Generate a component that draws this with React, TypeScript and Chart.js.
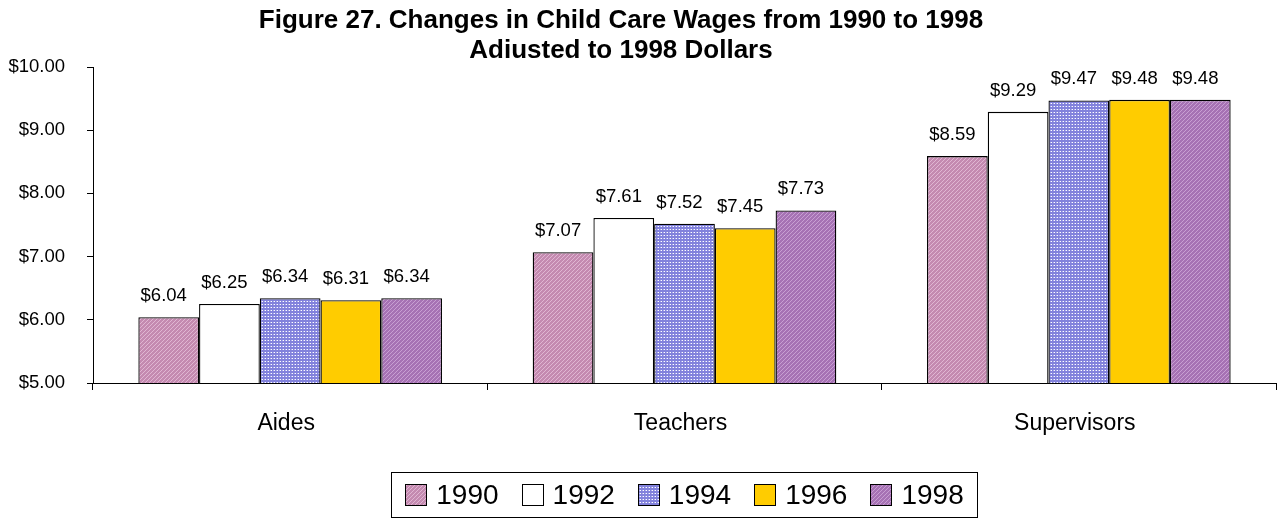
import React, { useEffect, useRef } from "react";
import { Chart, registerables } from "chart.js";

Chart.register(...registerables);

const categories = ["Aides", "Teachers", "Supervisors"];
const years = ["1990", "1992", "1994", "1996", "1998"];
const wages1990 = [6.04, 7.07, 8.59];
const wages1992 = [6.25, 7.61, 9.29];
const wages1994 = [6.34, 7.52, 9.47];
const wages1996 = [6.31, 7.45, 9.48];
const wages1998 = [6.34, 7.73, 9.48];
const titleLines = [
  "Figure 27. Changes in Child Care Wages from 1990 to 1998",
  "Adiusted to 1998 Dollars",
];
const yMin = 5;
const yMax = 10;
const yStep = 1;

const FONT = "'Liberation Sans', Arial, Helvetica, sans-serif";

function makeTile(kind: string): HTMLCanvasElement {
  const c = document.createElement("canvas");
  if (kind === "1994") {
    c.width = 3;
    c.height = 3;
    const g = c.getContext("2d")!;
    g.fillStyle = "#8282DC";
    g.fillRect(0, 0, 3, 3);
    g.fillStyle = "#FFFFFF";
    g.fillRect(1, 1, 1, 1);
    g.fillStyle = "#B4B4EE";
    g.fillRect(0, 1, 1, 1);
    return c;
  }
  c.width = 4;
  c.height = 4;
  const g = c.getContext("2d")!;
  const base = kind === "1990" ? "#C48AB0" : "#A672B4";
  const light = kind === "1990" ? "#E0B6D2" : "#C89FD2";
  g.fillStyle = base;
  g.fillRect(0, 0, 4, 4);
  g.fillStyle = light;
  for (let i = 0; i < 4; i++) g.fillRect(i, 3 - i, 1, 1);
  return c;
}

export default function App() {
  const canvasRef = useRef<HTMLCanvasElement | null>(null);

  useEffect(() => {
    const canvas = canvasRef.current;
    if (!canvas) return;
    const ctx = canvas.getContext("2d")!;
    const p1990 = ctx.createPattern(makeTile("1990"), "repeat")!;
    const p1994 = ctx.createPattern(makeTile("1994"), "repeat")!;
    const p1998 = ctx.createPattern(makeTile("1998"), "repeat")!;
    const fills: any[] = [p1990, "#FFFFFF", p1994, "#FFCC00", p1998];
    const series = [wages1990, wages1992, wages1994, wages1996, wages1998];

    const titlePlugin = {
      id: "customTitle",
      afterDraw(chart: any) {
        const c = chart.ctx;
        c.save();
        c.fillStyle = "#000";
        c.font = `bold 26px ${FONT}`;
        c.textAlign = "center";
        c.textBaseline = "alphabetic";
        const x = chart.width * 0.484;
        c.fillText(titleLines[0], x, 28);
        c.fillText(titleLines[1], x, 58);
        c.restore();
      },
    };

    const valueLabels = {
      id: "valueLabels",
      afterDatasetsDraw(chart: any) {
        const c = chart.ctx;
        c.save();
        c.fillStyle = "#000";
        c.font = `18.5px ${FONT}`;
        c.textAlign = "center";
        c.textBaseline = "alphabetic";
        chart.data.datasets.forEach((ds: any, i: number) => {
          const meta = chart.getDatasetMeta(i);
          meta.data.forEach((el: any, j: number) => {
            const v = ds.data[j] as number;
            c.fillText("$" + v.toFixed(2), el.x - 5, el.y - 16);
          });
        });
        c.restore();
      },
    };

    const boxLegend = {
      id: "boxLegend",
      afterDraw(chart: any) {
        const c = chart.ctx;
        const area = chart.chartArea;
        c.save();
        c.font = `28px ${FONT}`;
        const box = 22;
        const gap = 9;
        const spacing = 23;
        const margin = 14;
        const items = chart.data.datasets.map((ds: any) => ({
          label: ds.label,
          fill: ds.backgroundColor,
          w: box + gap + c.measureText(ds.label).width,
        }));
        const total =
          items.reduce((s: number, it: any) => s + it.w, 0) +
          spacing * (items.length - 1);
        const cx = (area.left + area.right) / 2;
        const left = cx - total / 2 - margin;
        const top = 472;
        const h = 45;
        c.strokeStyle = "#000";
        c.lineWidth = 1;
        c.strokeRect(
          Math.round(left) + 0.5,
          top + 0.5,
          Math.round(total + margin * 2),
          h
        );
        let x = cx - total / 2;
        const mid = top + h / 2 + 0.5;
        items.forEach((it: any) => {
          c.fillStyle = it.fill;
          c.fillRect(Math.round(x), Math.round(mid - box / 2), box, box);
          c.strokeStyle = "#000";
          c.strokeRect(
            Math.round(x) + 0.5,
            Math.round(mid - box / 2) + 0.5,
            box - 1,
            box - 1
          );
          c.fillStyle = "#000";
          c.textAlign = "left";
          c.textBaseline = "middle";
          c.fillText(it.label, x + box + gap, mid + 1);
          x += it.w + spacing;
        });
        c.restore();
      },
    };

    const chart = new Chart(canvas, {
      type: "bar",
      data: {
        labels: categories,
        datasets: years.map((y, i) => ({
          label: y,
          data: series[i],
          backgroundColor: fills[i],
          borderColor: "#000000",
          borderWidth: 1.3,
          barPercentage: 1,
          categoryPercentage: 0.77,
        })),
      },
      options: {
        responsive: true,
        maintainAspectRatio: false,
        animation: false,
        layout: { padding: { top: 67, right: 7, bottom: 76, left: 0 } },
        plugins: {
          legend: { display: false },
          title: { display: false },
          tooltip: { enabled: false },
        },
        scales: {
          x: {
            grid: {
              display: true,
              offset: true,
              drawOnChartArea: false,
              drawTicks: true,
              tickLength: 7,
              color: "#000",
            },
            border: { display: true, color: "#000", width: 1 },
            ticks: {
              color: "#000",
              font: { family: FONT, size: 23 },
              padding: 20,
              labelOffset: -4,
            },
            afterFit: (scale: any) => {
              scale.height = 60;
            },
          },
          y: {
            min: yMin,
            max: yMax,
            grid: {
              display: true,
              drawOnChartArea: false,
              drawTicks: true,
              tickLength: 6,
              color: "#000",
            },
            border: { display: true, color: "#000", width: 1 },
            ticks: {
              stepSize: yStep,
              color: "#000",
              font: { family: FONT, size: 18.5 },
              padding: 22,
              callback: (v: any) => "$" + Number(v).toFixed(2),
            },
            afterFit: (scale: any) => {
              scale.width = 93;
            },
          },
        },
      },
      plugins: [titlePlugin, valueLabels, boxLegend],
    });

    return () => chart.destroy();
  }, []);

  return (
    <div
      style={{
        position: "fixed",
        left: 0,
        top: 0,
        width: 1283,
        height: 519,
        background: "#fff",
      }}
    >
      <canvas ref={canvasRef} />
    </div>
  );
}
